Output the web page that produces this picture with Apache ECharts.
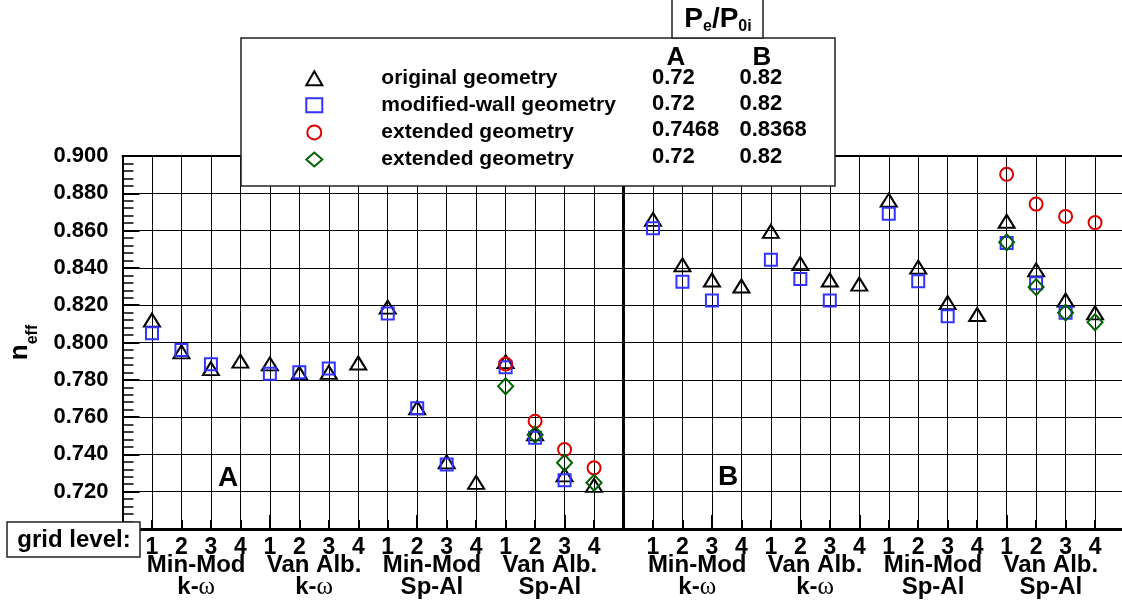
<!DOCTYPE html>
<html>
<head>
<meta charset="utf-8">
<script src="https://cdn.jsdelivr.net/npm/echarts@6/dist/echarts.min.js"></script>
<style>
  html, body { margin: 0; padding: 0; background: #fff; }
  #chart { width: 1122px; height: 602px; }
</style>
</head>
<body>
<div id="chart"></div>
<script>
// ---- data -------------------------------------------------------------
const LEVELS = ['1', '2', '3', '4'];
const GROUP_SOLVERS = ['Min-Mod', 'Van Alb.', 'Min-Mod', 'Van Alb.'];
const GROUP_MODELS = ['k-ω', 'k-ω', 'Sp-Al', 'Sp-Al'];
const PANELS = ['A', 'B'];

const SERIES_NAMES = ['original geometry', 'modified-wall geometry', 'extended geometry', 'extended geometry'];
const PRESSURE_A = ['0.72', '0.72', '0.7468', '0.72'];
const PRESSURE_B = ['0.82', '0.82', '0.8368', '0.82'];

const Y_TICKS = ['0.720', '0.740', '0.760', '0.780', '0.800', '0.820', '0.840', '0.860', '0.880', '0.900'];

// efficiency per grid level, 16 runs per panel (4 models x 4 grid levels)
const originalA = [0.812, 0.795, 0.786, 0.790, 0.7885, 0.7835, 0.784, 0.789, 0.819, 0.765, 0.736, 0.725, 0.7897, 0.751, 0.729, 0.7234];
const modifiedA = [0.805, 0.796, 0.7883, null, 0.7833, 0.7841, 0.786, null, 0.8155, 0.7648, 0.7346, null, 0.7867, 0.7489, 0.7262, null];
const extendedA = [null, null, null, null, null, null, null, null, null, null, null, null, 0.7885, 0.7578, 0.7426, 0.7328];
const extended72A = [null, null, null, null, null, null, null, null, null, null, null, null, 0.7765, 0.7506, 0.7355, 0.7248];

const originalB = [0.866, 0.8416, 0.8335, 0.8303, 0.8596, 0.8423, 0.8335, 0.8313, 0.8763, 0.8404, 0.8214, 0.815, 0.865, 0.8389, 0.8228, 0.8159];
const modifiedB = [0.8612, 0.8326, 0.8225, null, 0.8444, 0.834, 0.8225, null, 0.869, 0.8328, 0.8141, null, 0.8533, 0.8318, 0.8159, null];
const extendedB = [null, null, null, null, null, null, null, null, null, null, null, null, 0.8902, 0.8742, 0.8676, 0.8643];
const extended82B = [null, null, null, null, null, null, null, null, null, null, null, null, 0.8537, 0.8297, 0.816, 0.8109];

// ---- layout -------------------------------------------------------------
const PANEL_START = [0, 17];   // first x slot of each panel; slot 16 holds the divider
const DIVIDER_SLOT = 16;
const FONT = '"Liberation Sans", Arial, Helvetica, sans-serif';

function pairs(valuesA, valuesB) {
  const out = [];
  [valuesA, valuesB].forEach((vals, p) => {
    vals.forEach((v, i) => { if (v != null) out.push([PANEL_START[p] + i, v]); });
  });
  return out;
}

function levelLabel(v) {
  for (let p = 0; p < PANELS.length; p++) {
    const idx = v - PANEL_START[p];
    if (idx >= 0 && idx < 16 && Math.abs(idx - Math.round(idx)) < 1e-6) return LEVELS[Math.round(idx) % 4];
  }
  return '';
}

function groupLabel(v) {
  for (let p = 0; p < PANELS.length; p++) {
    for (let g = 0; g < GROUP_SOLVERS.length; g++) {
      const c = PANEL_START[p] + g * 4 + 1.5;
      if (Math.abs(v - c) < 1e-6) {
        const model = GROUP_MODELS[g].split('ω').map(s => s ? '{g|' + s + '}' : '').join('{w|ω}');
        return '{g|' + GROUP_SOLVERS[g] + '}\n' + model;
      }
    }
  }
  return '';
}

const series = [
  { name: SERIES_NAMES[0] + ' A', data: pairs(originalA, originalB), symbol: 'triangle', symbolSize: [16, 13], color: '#000000' },
  { name: SERIES_NAMES[1] + ' B', data: pairs(modifiedA, modifiedB), symbol: 'rect', symbolSize: [12, 12], color: '#3333ff' },
  { name: SERIES_NAMES[2] + ' C', data: pairs(extendedA, extendedB), symbol: 'circle', symbolSize: [13, 13], color: '#dd0000' },
  { name: SERIES_NAMES[3] + ' D', data: pairs(extended72A, extended82B), symbol: 'diamond', symbolSize: [15, 16], color: '#006400' }
].map((s, k) => ({
  type: 'scatter',
  name: s.name,
  data: s.data,
  symbol: s.symbol,
  symbolSize: s.symbolSize,
  xAxisIndex: 0,
  yAxisIndex: 0,
  z: 3 + k,
  itemStyle: { color: 'transparent', borderColor: s.color, borderWidth: 2, opacity: 1 },
  emphasis: { disabled: true },
  markLine: k === 0 ? {
    silent: true,
    symbol: ['none', 'none'],
    label: { show: false },
    lineStyle: { color: '#000', width: 3, type: 'solid' },
    data: [{ xAxis: DIVIDER_SLOT }]
  } : undefined
}));

// legend rows
const LEGEND_TOP = 67.7;
const ROW_STEP = 26.1;
const rowY = i => LEGEND_TOP + 10.5 + i * ROW_STEP;

const graphics = [
  { type: 'rect', z: 50, shape: { x: 241, y: 38, width: 594, height: 148 },
    style: { fill: '#fff', stroke: '#222', lineWidth: 1.5 } },
  { type: 'rect', z: 50, shape: { x: 672, y: -2, width: 91, height: 40 },
    style: { fill: '#fff', stroke: '#222', lineWidth: 1.5 } },
  { type: 'text', z: 51, style: {
      x: 718, y: 20, align: 'center', verticalAlign: 'middle',
      text: '{b|P}{s|e}{b|/P}{s|0i}',
      rich: {
        b: { fontFamily: FONT, fontWeight: 'bold', fontSize: 28, lineHeight: 30, verticalAlign: 'top', fill: '#000' },
        s: { fontFamily: FONT, fontWeight: 'bold', fontSize: 16, lineHeight: 6, verticalAlign: 'bottom', fill: '#000' }
      } } },
  { type: 'text', z: 51, style: { x: 676, y: 58, text: PANELS[0], align: 'center', verticalAlign: 'middle',
      fontFamily: FONT, fontWeight: 'bold', fontSize: 26, fill: '#000' } },
  { type: 'text', z: 51, style: { x: 762, y: 58, text: PANELS[1], align: 'center', verticalAlign: 'middle',
      fontFamily: FONT, fontWeight: 'bold', fontSize: 26, fill: '#000' } },
  // "grid level:" tag
  { type: 'rect', z: 50, shape: { x: 7, y: 522, width: 133, height: 35 },
    style: { fill: '#fff', stroke: '#222', lineWidth: 1.5 } },
  { type: 'text', z: 51, style: { x: 74, y: 540, text: 'grid level:', align: 'center', verticalAlign: 'middle',
      fontFamily: FONT, fontWeight: 'bold', fontSize: 24, fill: '#000' } },
  // panel tags
  { type: 'text', z: 20, style: { x: 228, y: 478, text: PANELS[0], align: 'center', verticalAlign: 'middle',
      fontFamily: FONT, fontWeight: 'bold', fontSize: 28, fill: '#000' } },
  { type: 'text', z: 20, style: { x: 728, y: 477, text: PANELS[1], align: 'center', verticalAlign: 'middle',
      fontFamily: FONT, fontWeight: 'bold', fontSize: 28, fill: '#000' } }
];
PRESSURE_A.forEach((t, i) => graphics.push({ type: 'text', z: 51, style: {
  x: 652, y: rowY(i), text: t, align: 'left', verticalAlign: 'middle',
  fontFamily: FONT, fontWeight: 'bold', fontSize: 22, fill: '#000' } }));
PRESSURE_B.forEach((t, i) => graphics.push({ type: 'text', z: 51, style: {
  x: 739.5, y: rowY(i), text: t, align: 'left', verticalAlign: 'middle',
  fontFamily: FONT, fontWeight: 'bold', fontSize: 22, fill: '#000' } }));

const black = '#000';
const option = {
  animation: false,
  backgroundColor: '#fff',
  textStyle: { fontFamily: FONT },
  grid: { left: 122.5, width: 1031.5, top: 156, bottom: 73, containLabel: false, outerBoundsMode: 'none' },
  legend: {
    show: true,
    z: 60,
    orient: 'vertical',
    left: 305.3,
    top: LEGEND_TOP,
    padding: 0,
    itemWidth: 16,
    itemHeight: 14,
    itemGap: ROW_STEP - 20,
    selectedMode: false,
    formatter: name => name.slice(0, -2),
    textStyle: { fontFamily: FONT, fontWeight: 'bold', fontSize: 21, lineHeight: 20, color: '#000', padding: [0, 0, 0, 54] },
    data: series.map(s => s.name)
  },
  xAxis: [
    { // frame, grid lines and ticks
      type: 'value', min: -1, max: 34, interval: 5, position: 'bottom',
      axisLine: { show: true, onZero: false, lineStyle: { color: black, width: 3 } },
      axisTick: { show: true, inside: true, length: 14, lineStyle: { color: black, width: 2 } },
      minorTick: { show: true, splitNumber: 5, length: 9, lineStyle: { color: black, width: 2 } },
      splitLine: { show: true, lineStyle: { color: black, width: 1 } },
      minorSplitLine: { show: true, lineStyle: { color: black, width: 1 } },
      axisLabel: { show: false }
    },
    { // grid level numbers
      type: 'value', min: -1, max: 34, interval: 1, position: 'bottom',
      axisLine: { show: false }, axisTick: { show: false }, splitLine: { show: false },
      axisLabel: { show: true, margin: 7, formatter: levelLabel, color: black,
        fontFamily: FONT, fontWeight: 'bold', fontSize: 23, lineHeight: 23 }
    },
    { // model groups
      type: 'value', min: -1, max: 34, interval: 0.5, position: 'bottom', offset: 25,
      axisLine: { show: false }, axisTick: { show: false }, splitLine: { show: false },
      axisLabel: { show: true, margin: 0, formatter: groupLabel, color: black, lineHeight: 22,
        rich: {
          g: { fontFamily: FONT, fontWeight: 'bold', fontSize: 24, lineHeight: 22, color: black },
          w: { fontFamily: '"Liberation Serif", "DejaVu Serif", serif', fontSize: 25, lineHeight: 22, color: black }
        } }
    },
    { // top frame line
      type: 'value', min: -1, max: 34, position: 'top',
      axisLine: { show: true, onZero: false, lineStyle: { color: black, width: 2 } },
      axisTick: { show: false }, splitLine: { show: false }, axisLabel: { show: false }
    }
  ],
  yAxis: [{
    type: 'value', min: 0.7, max: 0.9, interval: 0.02, position: 'left',
    name: '{n|n}{e|eff}',
    nameLocation: 'middle', nameRotate: 90, nameGap: 82,
    nameTextStyle: {
      rich: {
        n: { fontFamily: FONT, fontWeight: 'bold', fontSize: 26, lineHeight: 34, verticalAlign: 'top', color: black },
        e: { fontFamily: FONT, fontWeight: 'bold', fontSize: 16, lineHeight: 12, verticalAlign: 'bottom', color: black }
      }
    },
    axisLine: { show: true, onZero: false, lineStyle: { color: black, width: 2 } },
    axisTick: { show: true, inside: true, length: 17, lineStyle: { color: black, width: 2 } },
    minorTick: { show: true, splitNumber: 5, length: 11, lineStyle: { color: black, width: 1.5 } },
    splitLine: { show: true, lineStyle: { color: black, width: 1 } },
    axisLabel: {
      show: true, margin: 14, color: black, fontFamily: FONT, fontWeight: 'bold', fontSize: 22,
      formatter: v => { const t = v.toFixed(3); return Y_TICKS.indexOf(t) >= 0 ? t : ''; }
    }
  }],
  graphic: graphics,
  series: series
};

const chart = echarts.init(document.getElementById('chart'), null, { renderer: 'canvas' });
chart.setOption(option);
</script>
</body>
</html>
